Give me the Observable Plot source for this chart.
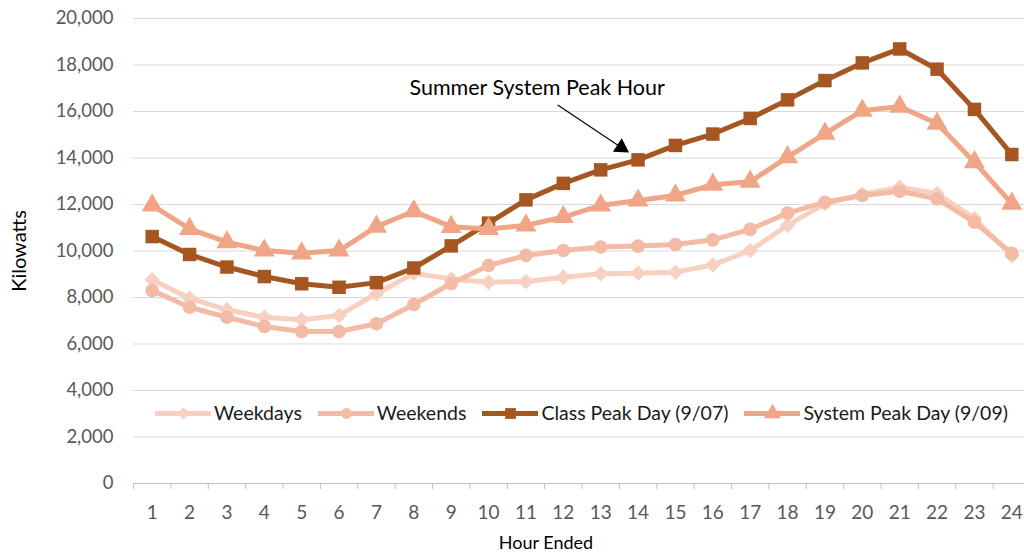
<!DOCTYPE html>
<html>
<head>
<meta charset="utf-8">
<script src="https://cdn.jsdelivr.net/npm/d3@7"></script>
<script src="https://cdn.jsdelivr.net/npm/@observablehq/plot@0.6"></script>
<style>
  html, body { margin: 0; padding: 0; background: #fff; }
  #wrap { position: relative; width: 1024px; height: 553px; overflow: hidden; font-family: Lato, "Liberation Sans", sans-serif; }
  #legend { position: absolute; left: 133px; width: 897px; top: 399px; display: flex; justify-content: center; align-items: center; gap: 16px; font-size: 19.5px; color: #1a1a1a; background: #fff; padding: 2px 0; }
  .item { display: flex; align-items: center; }
  .item svg { display: block; }
</style>
</head>
<body>
<div id="wrap"><div id="chart"></div><div id="legend"></div></div>
<script>
// ---- data ----
const hours = [1,2,3,4,5,6,7,8,9,10,11,12,13,14,15,16,17,18,19,20,21,22,23,24];
const weekdays   = [8760, 7970, 7470, 7150, 7040, 7230, 8160, 9040, 8800, 8660, 8690, 8870, 9020, 9040, 9090, 9400, 10020, 11100, 12040, 12430, 12740, 12470, 11400, 9800];
const weekends   = [8300, 7580, 7150, 6750, 6540, 6540, 6870, 7700, 8600, 9380, 9810, 10020, 10170, 10210, 10280, 10480, 10930, 11630, 12100, 12390, 12570, 12240, 11240, 9900];
const classPeak  = [10620, 9850, 9310, 8900, 8590, 8440, 8640, 9270, 10220, 11200, 12200, 12910, 13490, 13920, 14540, 15030, 15700, 16500, 17330, 18090, 18690, 17820, 16090, 14150];
const systemPeak = [11960, 10950, 10380, 10020, 9900, 10020, 11050, 11710, 11040, 10950, 11100, 11460, 11960, 12170, 12390, 12850, 12980, 14040, 15050, 16040, 16210, 15480, 13820, 12040];
const seriesNames = ["Weekdays", "Weekends", "Class Peak Day (9/07)", "System Peak Day (9/09)"];
const seriesColors = ["#F7D0C2", "#F3BBA6", "#A65621", "#F1A587"];
const seriesSymbols = ["diamond2", "circle", "square", "triangle"];
const seriesR = [7, 6.8, 7.6, 7.8];
const yTicks = [0,2000,4000,6000,8000,10000,12000,14000,16000,18000,20000];
const xBoundaries = d3.range(0.5, 25, 1);
const annotationText = "Summer System Peak Hour";
const annotationAt = {x: 11.3, y: 17000};
const arrowFrom = {x: 11.85, y: 16280};
const arrowTo = {x: 13.55, y: 14450};
const arrowHead = {x: 13.55, y: 14450};

// ---- build table ----
const allValues = [weekdays, weekends, classPeak, systemPeak];
const data = [];
allValues.forEach((vals, si) => vals.forEach((v, i) => data.push({series: seriesNames[si], hour: hours[i], kw: v})));

const marks = [
  Plot.gridY(yTicks, {stroke: "#d9d9d9", strokeOpacity: 1, strokeWidth: 1}),
  Plot.axisY(yTicks, {tickSize: 0, tickPadding: 20, tickFormat: d3.format(","), fontSize: 18.5, fill: "#595959", label: null}),
  Plot.ruleY([0], {stroke: "#bfbfbf", strokeWidth: 1}),
  Plot.axisX(xBoundaries, {tickSize: 6, stroke: "#bfbfbf", tickFormat: () => "", label: null}),
  Plot.axisX(hours, {tickSize: 0, tickPadding: 22, fontSize: 19, fill: "#595959", label: null}),
  Plot.text(["Hour Ended"], {frameAnchor: "bottom", dx: -36, dy: 65, fontSize: 18, fill: "#000"}),
  Plot.text(["Kilowatts"], {frameAnchor: "left", textAnchor: "middle", rotate: -90, dx: -114, fontSize: 20, fill: "#000"})
];
seriesNames.forEach((name, si) => {
  const d = data.filter(r => r.series === name);
  marks.push(Plot.line(d, {x: "hour", y: "kw", stroke: seriesColors[si], strokeWidth: 5}));
  marks.push(Plot.dot(d, {x: "hour", y: "kw", symbol: seriesSymbols[si], r: seriesR[si], fill: seriesColors[si], stroke: "none"}));
});
marks.push(Plot.text([annotationText], {x: annotationAt.x, y: annotationAt.y, fontSize: 21.5, fill: "#000"}));
marks.push(Plot.link([arrowFrom], {x1: "x", y1: "y", x2: () => arrowTo.x, y2: () => arrowTo.y, stroke: "#000", strokeWidth: 1.2}));
marks.push(Plot.dot([arrowHead], {x: "x", y: "y", symbol: "triangle", r: 6, fill: "#000", rotate: 123}));

const chart = Plot.plot({
  width: 1024,
  height: 553,
  marginLeft: 133,
  marginRight: -6,
  marginTop: 18,
  marginBottom: 70,
  style: {fontFamily: "Lato, 'Liberation Sans', sans-serif", background: "#fff", overflow: "visible"},
  x: {type: "linear", domain: [0.5, 24.5]},
  y: {domain: [0, 20000]},
  marks
});
document.getElementById("chart").appendChild(chart);

// ---- legend ----
const legend = document.getElementById("legend");
seriesNames.forEach((name, si) => {
  const item = document.createElement("div");
  item.className = "item";
  const sw = Plot.plot({
    width: 56, height: 18, margin: 0,
    x: {domain: [0, 1], axis: null}, y: {domain: [0, 1], axis: null},
    style: {background: "transparent"},
    marks: [
      Plot.ruleY([0.5], {x1: 0, x2: 1, stroke: seriesColors[si], strokeWidth: 5}),
      Plot.dot([[0.5, 0.5]], {symbol: seriesSymbols[si], r: seriesR[si] * 0.8, fill: seriesColors[si]})
    ]
  });
  item.appendChild(sw);
  const t = document.createElement("span");
  t.textContent = name;
  t.style.marginLeft = "3px";
  item.appendChild(t);
  legend.appendChild(item);
});
</script>
</body>
</html>
